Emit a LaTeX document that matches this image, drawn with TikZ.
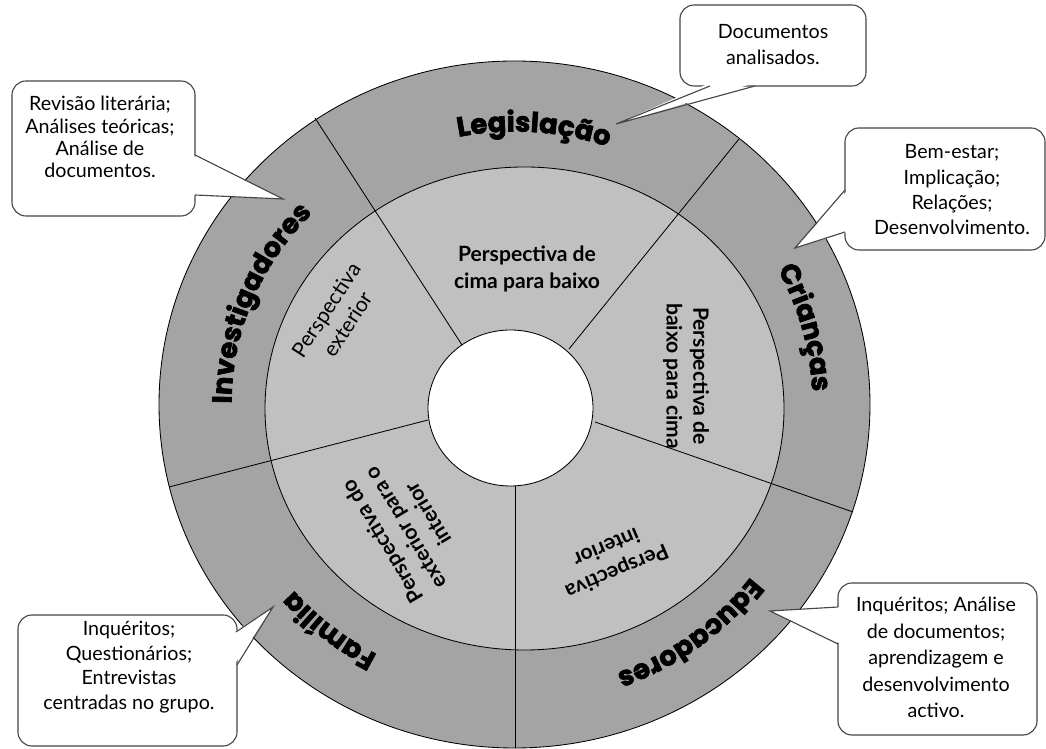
\documentclass[tikz,border=0pt]{standalone}
\usepackage{fontspec}
\setmainfont{Lato}
\newfontfamily\ringface{Poppins}[BoldFeatures={FakeBold=2.5}]
\usetikzlibrary{decorations.text,calc}
\definecolor{ringdark}{RGB}{164,164,164}
\definecolor{ringlight}{RGB}{192,192,192}
\definecolor{boxline}{RGB}{70,70,70}
\newcommand{\ringfont}{\ringface\fontsize{19.5}{20}\selectfont\bfseries}
\tikzset{
  divider/.style={line width=0.6pt},
  callout box/.style={draw=boxline, fill=white, line width=0.8pt, rounded corners=10pt},
  callout text/.style={align=center, inner sep=0pt, font=\fontsize{14}{#1}\selectfont},
  wedge/.style={draw=boxline, line width=0.8pt, line join=miter},
  ring label/.style={decorate, decoration={text along path, text align=center,
    text={|\ringfont|#1}}},
  persp/.style={align=center, font=\fontsize{15}{19}\selectfont\bfseries},
}
\begin{document}
\begin{tikzpicture}[x=0.025cm, y=0.025cm]
\useasboundingbox (0,0) rectangle (1046,749);
% rings
\coordinate (C) at (514.5,344.5);
\filldraw[fill=ringdark, line width=0.6pt] (C) ellipse (355.5 and 343.5);
\filldraw[fill=ringlight, line width=0.6pt] (524.5,340.5) ellipse (259.5 and 241.5);
\filldraw[fill=white, line width=0.6pt] (510.5,341) ellipse (82.5 and 78);
% dividers
\draw[divider] (462,404) -- (315,631);
\draw[divider] (569,400) -- (739,610);
\draw[divider] (595,327) -- (853,237);
\draw[divider] (515,263) -- (515,1);
\draw[divider] (428,329) -- (169,262);
% outer ring labels
\path[ring label=Legislação] ($(C)+(136:283 and 273)$) arc[start angle=136, end angle=36, x radius=283, y radius=273];
\path[ring label=Investigadores] ($(C)+(208:283 and 273)$) arc[start angle=208, end angle=108, x radius=283, y radius=273];
\path[ring label=Crianças] ($(C)+(65:298 and 288)$) arc[start angle=65, end angle=-35, x radius=298, y radius=288];
\path[ring label=Educadores] ($(C)+(-3:296 and 286)$) arc[start angle=-3, end angle=-103, x radius=296, y radius=286];
\path[ring label=Família] ($(C)+(-79:293 and 283)$) arc[start angle=-79, end angle=-179, x radius=293, y radius=283];
% inner ring labels
\node[persp] (cima) at (527,480) {Perspectiva de\\cima para baixo};
\node[persp, rotate=-90] (baixo) at (686,373) {Perspectiva de\\baixo para cima};
\node[persp, font=\fontsize{15}{18.5}\selectfont, rotate=57] (exterior) at (337,432) {Perspectiva\\exterior};
\node[persp, rotate=121] (dointerior) at (405,221) {Perspectiva do\\exterior para o\\interior};
\node[persp, rotate=-157] (interior) at (612,189) {Perspectiva\\interior};
% callouts
\node[callout box, minimum width=4.575cm, minimum height=3.375cm] (invbox) at (103.5,600.5) {};
\coordinate (invtip) at (283,550);
\fill[white] (192,594) -- (invtip) -- (192,554) -- cycle;
\draw[wedge] (195,594) -- (invtip) -- (195,554);
\node[callout text=15.8pt] (invtext) at (100,612)
  {Revisão literária;\\Análises teóricas;\\Análise de\\documentos.};
\node[callout box, minimum width=4.65cm, minimum height=2.025cm] (legbox) at (773,703.5) {};
\coordinate (legtip) at (616,625);
\fill[white] (710,666) -- (legtip) -- (755,666) -- cycle;
\draw[wedge] (710,663) -- (legtip) -- (755,663);
\node[callout text=18.5pt] (legtext) at (773,704) {Documentos\\analisados.};
\node[callout box, minimum width=5cm, minimum height=3.05cm] (cribox) at (945,560) {};
\coordinate (critip) at (795,501);
\fill[white] (848,559) -- (critip) -- (848,517) -- cycle;
\draw[wedge] (845,559) -- (critip) -- (845,517);
\node[callout text=18pt] (critext) at (952,559)
  {Bem-estar;\\Implicação;\\Relações;\\Desenvolvimento.};
\node[callout box, minimum width=5.475cm, minimum height=3.275cm] (fambox) at (127.5,68.5) {};
\coordinate (famtip) at (273,142);
\fill[white] (233,116) -- (famtip) -- (234,84) -- cycle;
\draw[wedge] (236,117) -- (famtip) -- (237,84);
\node[callout text=17.4pt] (famtext) at (129,82)
  {Inquéritos;\\Questionários;\\Entrevistas\\centradas no grupo.};
\node[callout box, minimum width=4.975cm, minimum height=3.8cm] (edubox) at (937.5,90) {};
\coordinate (edutip) at (770,138);
\fill[white] (841,142) -- (edutip) -- (841,105) -- cycle;
\draw[wedge] (838,142) -- (edutip) -- (838,105);
\node[callout text=18.8pt] (edutext) at (936,91.5)
  {Inquéritos; Análise\\de documentos;\\aprendizagem e\\desenvolvimento\\activo.};
\end{tikzpicture}
\end{document}
